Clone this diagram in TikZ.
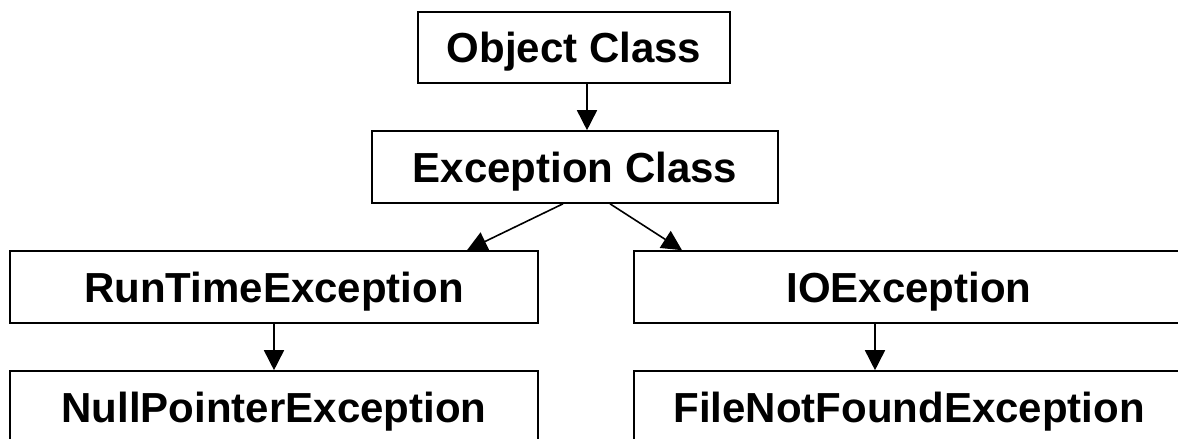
\documentclass[tikz,border=0pt]{standalone}
\usepackage{fontspec}
\setmainfont{Liberation Sans}
\usetikzlibrary{arrows.meta}
\begin{document}
\begin{tikzpicture}[x=1pt,y=-1pt,
  txt/.style={font=\fontsize{42}{50}\selectfont\bfseries, text height=30pt, text depth=0pt},
  box/.style={draw, line width=1.6pt, inner sep=0pt, txt},
  arr/.style={line width=1.6pt, -{Triangle[length=20pt,width=20pt]}}]
\useasboundingbox (0,0) rectangle (1178,439);
\clip (0,0) rectangle (1178,439);
\node[box, minimum width=312pt, minimum height=71pt] (obj) at (574,47.5) {Object Class};
\node[box, minimum width=406pt, minimum height=72pt] (exc) at (575,167) {Exception Class};
\node[box, minimum width=528pt, minimum height=72pt] (rte) at (274,287) {RunTimeException};
\node[box, minimum width=528pt, minimum height=72pt] (npe) at (274,407) {NullPointerException};
\node[box, minimum width=550pt, minimum height=72pt] (io) at (909,287) {IOException};
\node[box, minimum width=550pt, minimum height=72pt] (fnf) at (909,407) {FileNotFoundException};
\draw[arr] (obj.south -| 587,0) -- (exc.north -| 587,0);
\draw[arr] (exc.south -| 563,0) -- (rte.north -| 467,0);
\draw[arr] (exc.south -| 610,0) -- (io.north -| 682,0);
\draw[arr] (rte.south) -- (npe.north);
\draw[arr] (io.south -| 875,0) -- (fnf.north -| 875,0);
\end{tikzpicture}
\end{document}
